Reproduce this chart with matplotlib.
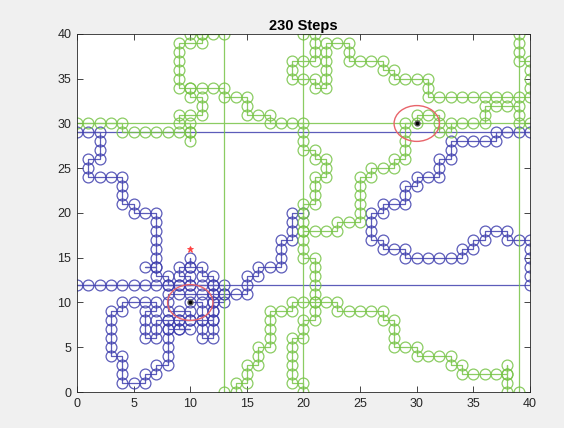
import matplotlib.pyplot as plt
from matplotlib.patches import Circle

# walker positions in step order; a jump from 0 to 40 (or back) is a wrap-around
blue_path = [
    (10, 10), (11, 10), (11, 9), (11, 8), (11, 7), (11, 6), (12, 6), (12, 7), (12, 8),
    (12, 9), (12, 10), (13, 10), (13, 11), (12, 11), (11, 11), (10, 11), (9, 11), (8, 11),
    (8, 10), (8, 9), (9, 9), (10, 9), (10, 8), (9, 8), (9, 7), (10, 7), (9, 7), (8, 7),
    (8, 8), (7, 8), (7, 7), (7, 6), (6, 6), (6, 7), (6, 8), (6, 9), (7, 9), (7, 10),
    (6, 10), (5, 10), (4, 10), (4, 9), (3, 9), (3, 8), (3, 7), (3, 6), (3, 5), (3, 4),
    (4, 4), (4, 3), (4, 2), (4, 1), (5, 1), (6, 1), (6, 2), (7, 2), (7, 3), (8, 3),
    (8, 4), (8, 5), (8, 6), (8, 7), (8, 8), (9, 8), (10, 8), (11, 8), (12, 8), (12, 9),
    (12, 10), (12, 11), (12, 12), (12, 13), (11, 13), (11, 14), (10, 14), (10, 15), (10, 14),
    (9, 14), (9, 13), (10, 13), (10, 12), (9, 12), (8, 12), (8, 13), (7, 13), (7, 14),
    (6, 14), (7, 14), (7, 15), (7, 16), (7, 17), (7, 18), (7, 19), (7, 20), (6, 20),
    (5, 20), (5, 21), (4, 21), (4, 22), (4, 23), (4, 24), (3, 24), (2, 24), (1, 24),
    (1, 25), (1, 26), (2, 26), (2, 27), (2, 28), (2, 29), (1, 29), (0, 29),
    (40, 29), (39, 29), (38, 29), (37, 29), (37, 28), (36, 28), (35, 28), (34, 28),
    (33, 28), (33, 27), (33, 26), (32, 26), (32, 25), (32, 24), (31, 24), (30, 24),
    (30, 23), (29, 23), (29, 22), (29, 21), (28, 21), (27, 21), (27, 20), (26, 20),
    (26, 19), (26, 18), (26, 17), (27, 17), (27, 16), (28, 16), (29, 16), (29, 15),
    (30, 15), (31, 15), (32, 15), (33, 15), (34, 15), (34, 16), (35, 16), (35, 17),
    (36, 17), (36, 18), (37, 18), (38, 18), (38, 17), (39, 17), (40, 17), (40, 16),
    (40, 15), (40, 14), (40, 13), (40, 12),
    (0, 12), (1, 12), (2, 12), (3, 12), (4, 12), (5, 12), (6, 12), (7, 12), (8, 12),
    (9, 12), (10, 12), (11, 12), (12, 12), (13, 12), (13, 11), (14, 11), (15, 11),
    (15, 12), (15, 13), (16, 13), (16, 14), (17, 14), (18, 14), (18, 15), (18, 16),
    (18, 17), (19, 17), (19, 18), (19, 19), (19, 20), (20, 20),
]

green_path = [
    (20, 18), (21, 18), (22, 18), (23, 18), (23, 19), (24, 19), (25, 19), (25, 20),
    (25, 21), (25, 22), (25, 23), (25, 24), (26, 24), (26, 25), (27, 25), (28, 25),
    (28, 26), (29, 26), (29, 27), (29, 28), (29, 29), (29, 30), (30, 30), (30, 31),
    (31, 31), (32, 31), (32, 30), (32, 29), (33, 29), (33, 30), (34, 30), (35, 30),
    (36, 30), (36, 31), (36, 32), (37, 32), (38, 32), (39, 32), (39, 31), (39, 30),
    (40, 30),
    (0, 30), (1, 30), (2, 30), (3, 30), (4, 30), (4, 29), (5, 29), (6, 29), (7, 29),
    (8, 29), (9, 29), (10, 29), (10, 28), (10, 29), (10, 30), (9, 30), (9, 31), (10, 31),
    (11, 31), (11, 32), (11, 33), (10, 33), (10, 34), (9, 34), (9, 35), (9, 36), (9, 37),
    (9, 38), (9, 39), (10, 39), (11, 39), (11, 40), (10, 40), (11, 40), (12, 40), (13, 40),
    (13, 0), (14, 0), (14, 1), (15, 1), (15, 2), (15, 3), (16, 3), (16, 4), (16, 5),
    (17, 5), (17, 6), (17, 7), (17, 8), (17, 9), (18, 9), (19, 9), (19, 10), (20, 10),
    (21, 10), (21, 9), (21, 8), (20, 8), (20, 7), (20, 6), (19, 6), (19, 5), (19, 4),
    (19, 3), (19, 2), (19, 1), (20, 1), (20, 0),
    (20, 40), (21, 40), (21, 39), (21, 38), (21, 37), (20, 37), (19, 37), (19, 36),
    (19, 35), (20, 35), (21, 35), (21, 34), (22, 34), (22, 35), (22, 36), (22, 37),
    (22, 38), (22, 39), (23, 39), (24, 39), (24, 38), (24, 37), (25, 37), (26, 37),
    (27, 37), (27, 36), (28, 36), (28, 35), (29, 35), (30, 35), (31, 35), (31, 34),
    (31, 33), (32, 33), (33, 33), (34, 33), (35, 33), (36, 33), (37, 33), (38, 33),
    (39, 33), (40, 33), (40, 34), (40, 35), (40, 36), (40, 37), (39, 37), (39, 38),
    (39, 39), (39, 40),
    (39, 0), (38, 0), (38, 1), (38, 2), (38, 3), (38, 2), (37, 2), (36, 2), (35, 2),
    (34, 2), (34, 3), (33, 3), (33, 4), (32, 4), (31, 4), (30, 4), (30, 5), (29, 5),
    (28, 5), (28, 6), (28, 7), (28, 8), (27, 8), (27, 9), (26, 9), (25, 9), (24, 9),
    (23, 9), (23, 10), (22, 10), (21, 10), (21, 11), (21, 12), (21, 13), (21, 14),
    (21, 15), (20, 15), (20, 16), (20, 17), (20, 18), (20, 19), (20, 20), (20, 21),
    (21, 21), (21, 22), (21, 23), (21, 24), (22, 24), (22, 25), (22, 26), (21, 26),
    (21, 27), (20, 27), (20, 28), (20, 29), (20, 30), (19, 30), (18, 30), (17, 30),
    (17, 31), (16, 31), (15, 31), (15, 32), (15, 33), (14, 33), (13, 33), (13, 34),
    (12, 34), (11, 34), (10, 34),
]

start_points = [(10, 10), (30, 30)]
start_radius = 2
star_point = (10, 16)
title = '230 Steps'
ticks = list(range(0, 41, 5))

plt.rcParams['font.family'] = ['Liberation Sans', 'DejaVu Sans']

fig = plt.figure(figsize=(5.64, 4.28), dpi=100, facecolor='#f0f0f0')
ax = fig.add_axes([0.1365, 0.0841, 0.8032, 0.8365])

for path, color in [(blue_path, '#3f3fae'), (green_path, '#77c447')]:
    xs = [p[0] for p in path]
    ys = [p[1] for p in path]
    ax.plot(xs, ys, '-o', color=color, lw=0.9, markersize=7.8,
            markerfacecolor='none', markeredgewidth=0.9, alpha=0.85, zorder=2)

# start markers sit on top of the walks
for sx, sy in start_points:
    ax.add_patch(Circle((sx, sy), start_radius, fill=False, ec='#e8646a', lw=1.0, zorder=4))
    ax.plot(sx, sy, '.', color='#555555', markersize=7, zorder=5)
    ax.plot(sx, sy, '.', color='black', markersize=3, zorder=6)

ax.plot(*star_point, '*', color='#ff4040', markersize=5, markeredgewidth=0.6, zorder=5)

ax.set_xlim(0, 40)
ax.set_ylim(0, 40)
ax.set_xticks(ticks)
ax.set_yticks(ticks)
ax.tick_params(direction='in', top=True, right=True, length=4, width=0.6,
               labelsize=9, colors='#262626', pad=4)
for s in ax.spines.values():
    s.set_linewidth(0.6)
    s.set_color('#262626')
ax.set_title(title, fontsize=10.5, fontweight='bold', pad=3)

fig.savefig('out.png', dpi=100, facecolor=fig.get_facecolor())
